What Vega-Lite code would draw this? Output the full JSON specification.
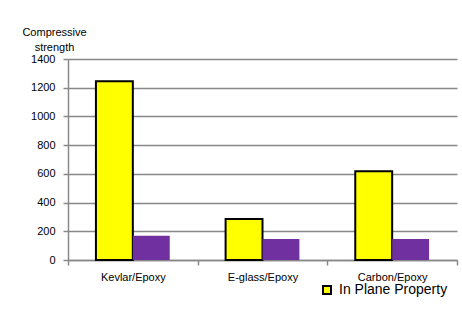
{
  "$schema": "https://vega.github.io/schema/vega-lite/v6.json",
  "width": 389,
  "height": 201,
  "autosize": {"type": "none"},
  "padding": {"left": 68, "top": 59, "right": 5, "bottom": 60},
  "background": "white",
  "config": {
    "font": "Liberation Sans",
    "view": {"stroke": null},
    "axis": {"labelColor": "#000", "titleColor": "#000"}
  },
  "data": {
    "values": [
      {"material": "Kevlar/Epoxy", "series": "In Plane Property", "strength": 1245},
      {"material": "Kevlar/Epoxy", "series": "Out of Plane Property", "strength": 169},
      {"material": "E-glass/Epoxy", "series": "In Plane Property", "strength": 285},
      {"material": "E-glass/Epoxy", "series": "Out of Plane Property", "strength": 146},
      {"material": "Carbon/Epoxy", "series": "In Plane Property", "strength": 618},
      {"material": "Carbon/Epoxy", "series": "Out of Plane Property", "strength": 146}
    ]
  },
  "mark": {"type": "bar", "stroke": "black"},
  "encoding": {
    "x": {
      "field": "material",
      "type": "nominal",
      "sort": null,
      "scale": {"paddingInner": 0, "paddingOuter": 0},
      "axis": {
        "title": null,
        "labelAngle": 0,
        "labelFontSize": 11,
        "labelPadding": 6,
        "tickBand": "extent",
        "tickSize": 5,
        "tickColor": "#888",
        "tickWidth": 1.5,
        "domainColor": "#888",
        "domainWidth": 1.5,
        "grid": false
      }
    },
    "xOffset": {
      "field": "series",
      "type": "nominal",
      "scale": {"paddingOuter": 0.757, "paddingInner": 0}
    },
    "y": {
      "field": "strength",
      "type": "quantitative",
      "scale": {"domain": [0, 1400]},
      "axis": {
        "values": [0, 200, 400, 600, 800, 1000, 1200, 1400],
        "format": "d",
        "title": ["Compressive", "strength"],
        "titleAngle": 0,
        "titleAlign": "center",
        "titleBaseline": "top",
        "titleX": -14,
        "titleY": -33,
        "titleFontSize": 11,
        "titleFontWeight": "normal",
        "titleLineHeight": 15,
        "labelFontSize": 11,
        "labelPadding": 8,
        "tickSize": 5,
        "tickColor": "#888",
        "tickWidth": 1.5,
        "domainColor": "#888",
        "domainWidth": 1.5,
        "gridColor": "#888",
        "gridWidth": 1.5
      }
    },
    "color": {
      "field": "series",
      "type": "nominal",
      "scale": {"domain": ["In Plane Property", "Out of Plane Property"], "range": ["#FFFF00", "#7030A0"]},
      "legend": {
        "values": ["In Plane Property"],
        "title": null,
        "orient": "none",
        "legendX": 252,
        "legendY": 224,
        "padding": 0,
        "symbolType": "square",
        "symbolSize": 64,
        "symbolStrokeColor": "black",
        "symbolStrokeWidth": 2,
        "labelFontSize": 14,
        "labelColor": "#000",
        "labelOffset": 5
      }
    },
    "strokeWidth": {
      "condition": {"test": "datum.series === 'In Plane Property'", "value": 2},
      "value": 0
    }
  }
}
